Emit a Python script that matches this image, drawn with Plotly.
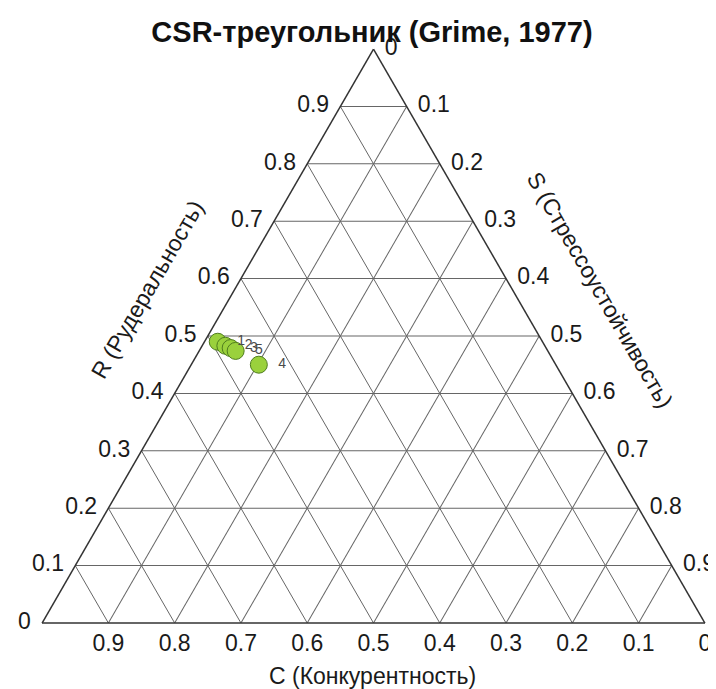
# CSR-треугольник (Grime, 1977) - тернарная диаграмма
import plotly.graph_objects as go

# --- данные (доли R, C, S для каждой точки) ---
labels = ["1", "2", "3", "5", "4"]
r_vals = [0.490, 0.483, 0.479, 0.474, 0.450]
c_vals = [0.490, 0.482, 0.476, 0.471, 0.448]
s_vals = [0.020, 0.035, 0.045, 0.055, 0.102]

tick_vals = [0, 0.1, 0.2, 0.3, 0.4, 0.5, 0.6, 0.7, 0.8, 0.9]
tick_text = ["0", "0.1", "0.2", "0.3", "0.4", "0.5", "0.6", "0.7", "0.8", "0.9"]

FONT = "Liberation Sans, Arial, sans-serif"
NB = "\u00a0"  # неразрывный пробел - отодвигает подписи от сторон
HAIR = "\u200a"

# страница 716x689, но body в html имеет отступ 8px - уменьшаем фигуру
OFF = 8
W, H = 716 - OFF, 689 - OFF
ML, MR, MT, MB = 33, 10, 41, 66

fig = go.Figure()

fig.add_trace(go.Scatterternary(
    a=r_vals,
    b=c_vals,
    c=s_vals,
    mode="markers+text",
    text=[NB * 2 + t for t in labels],
    textposition="middle right",
    textfont=dict(family=FONT, size=14, color="#4a4a4a"),
    marker=dict(size=17, color="#9ad13c",
                line=dict(color="#4f7d1e", width=1)),
    cliponaxis=False,
    showlegend=False,
    hoverinfo="skip",
))


def make_axis(texts):
    return dict(
        title=dict(text=""),
        tickmode="array",
        tickvals=tick_vals,
        ticktext=texts,
        ticks="",
        ticklen=0,
        tickfont=dict(family=FONT, size=23, color="#1a1a1a"),
        showgrid=True,
        gridcolor="#666",
        gridwidth=1,
        showline=True,
        linecolor="#333",
        linewidth=1.5,
        min=0,
    )


def ann(text, x, y, angle=0):
    # x, y - пиксели страницы от левого верхнего угла
    fx, fy = x - OFF, y - OFF
    return dict(text=text,
                x=(fx - ML) / (W - ML - MR),
                y=(H - fy - MB) / (H - MT - MB),
                xref="paper", yref="paper",
                xanchor="center", yanchor="middle",
                showarrow=False, textangle=angle,
                font=dict(family=FONT, size=23, color="#1a1a1a"))


fig.update_layout(
    width=W,
    height=H,
    paper_bgcolor="white",
    plot_bgcolor="white",
    margin=dict(l=ML, r=MR, t=MT, b=MB),
    title=dict(
        text="<b>CSR-треугольник (Grime, 1977)</b>",
        font=dict(family=FONT, size=29, color="#111"),
        x=(372 - OFF) / W, xanchor="center",
        y=1 - (32 - OFF) / H, yanchor="middle",
    ),
    ternary=dict(
        sum=1,
        bgcolor="white",
        domain=dict(x=[0, 1], y=[0, 1]),
        aaxis=make_axis([t + NB + HAIR for t in tick_text]),
        baxis=make_axis(tick_text),
        caxis=make_axis([NB + HAIR + t for t in tick_text]),
    ),
    annotations=[
        ann("R (Рудеральность)", 147, 290, -60),
        ann("S (Стрессоустойчивость)", 600, 290, 60),
        ann("C (Конкурентность)", 372, 676),
    ],
)

fig.write_html("out.html")
